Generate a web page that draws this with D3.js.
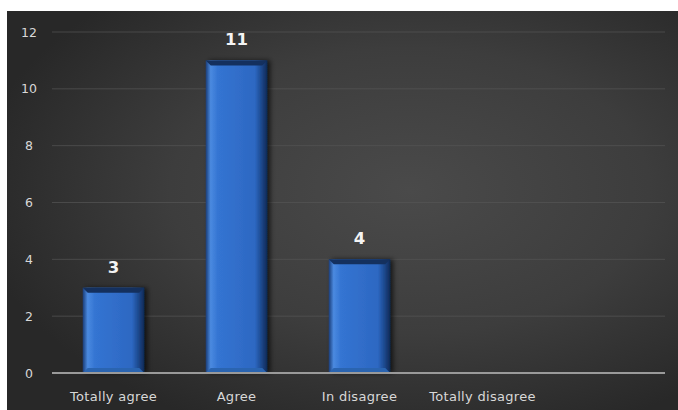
<!DOCTYPE html>
<html><head><meta charset="utf-8">
<script src="https://cdn.jsdelivr.net/npm/d3@7"></script>
<style>html,body{margin:0;padding:0;background:#fff;}svg{display:block;}</style>
</head><body>
<script>
const categories = ["Totally agree", "Agree", "In disagree", "Totally disagree", ""];
const values = [3, 11, 4, null, null];
const yTicks = [0, 2, 4, 6, 8, 10, 12];

const W = 678, H = 410;
const svg = d3.select("body").append("svg").attr("width", W).attr("height", H);
const defs = svg.append("defs");

const bg = defs.append("radialGradient").attr("id","bg")
  .attr("cx","0.6").attr("cy","0.45").attr("r","0.65");
bg.append("stop").attr("offset","0").attr("stop-color","#4a4a4a");
bg.append("stop").attr("offset","0.55").attr("stop-color","#3d3d3d");
bg.append("stop").attr("offset","1").attr("stop-color","#282828");

const bar = defs.append("linearGradient").attr("id","bar").attr("x1","0").attr("x2","1").attr("y1","0").attr("y2","0");
bar.append("stop").attr("offset","0").attr("stop-color","#1b3d78");
bar.append("stop").attr("offset","0.08").attr("stop-color","#4a8ae0");
bar.append("stop").attr("offset","0.2").attr("stop-color","#3474d2");
bar.append("stop").attr("offset","0.8").attr("stop-color","#2d68c2");
bar.append("stop").attr("offset","0.9").attr("stop-color","#1d4a90");
bar.append("stop").attr("offset","1").attr("stop-color","#0f2a55");

const shadow = defs.append("filter").attr("id","sh").attr("x","-30%").attr("y","-10%").attr("width","160%").attr("height","120%");
shadow.append("feDropShadow").attr("dx",3).attr("dy",0).attr("stdDeviation",2.5).attr("flood-color","#000").attr("flood-opacity",0.65);

svg.append("rect").attr("x",7).attr("y",11).attr("width",W-7).attr("height",H-11).attr("fill","url(#bg)");

const x = d3.scaleBand().domain(categories).range([52, 667]).paddingInner(0.5).paddingOuter(0.25);
const y = d3.scaleLinear().domain([0, 12]).range([373, 32]);
const font = "'DejaVu Sans', Verdana, sans-serif";

// grid
const grid = svg.append("g");
grid.selectAll("line").data(yTicks.filter(d => d > 0)).join("line")
  .attr("x1", 52).attr("x2", 665)
  .attr("y1", d => y(d)).attr("y2", d => y(d))
  .attr("stroke", "#555").attr("stroke-width", 1).attr("opacity", 0.7);

// y axis labels
const yAxis = d3.axisLeft(y).tickValues(yTicks).tickSize(0).tickPadding(0);
const yg = svg.append("g").attr("transform", "translate(29,0)").call(yAxis);
yg.select(".domain").remove();
yg.selectAll("text").attr("fill", "#d8d8d8").attr("text-anchor", "middle")
  .style("font-family", font).style("font-size", "12.5px");

// bars
const data = categories.map((c, i) => ({c, v: values[i]})).filter(d => d.v != null);
const bw = x.bandwidth();
const bars = svg.append("g");
bars.selectAll("rect").data(data).join("rect")
  .attr("x", d => x(d.c)).attr("y", d => y(d.v))
  .attr("width", bw).attr("height", d => y(0) - y(d.v))
  .attr("fill", "url(#bar)").attr("filter", "url(#sh)");
// top bevel
bars.selectAll("path.top").data(data).join("path").attr("class","top")
  .attr("d", d => `M${x(d.c)},${y(d.v)} h${bw} l-5,5 h${-(bw-10)} z`)
  .attr("fill", "#14305e");
bars.selectAll("path.bot").data(data).join("path").attr("class","bot")
  .attr("d", d => `M${x(d.c)},${y(0)} h${bw} l-5,-5 h${-(bw-10)} z`)
  .attr("fill", "#2a64b0");

// baseline
svg.append("line").attr("x1", 52).attr("x2", 665).attr("y1", y(0)).attr("y2", y(0))
  .attr("stroke", "#9a9a9a").attr("stroke-width", 2);

// value labels
svg.append("g").selectAll("text").data(data).join("text")
  .attr("x", d => x(d.c) + bw / 2).attr("y", d => y(d.v) - 15)
  .attr("text-anchor", "middle").attr("fill", "#f4f4f4")
  .style("font-family", font).style("font-size", "16.5px").style("font-weight", "bold")
  .text(d => d.v);

// x labels
const xAxis = d3.axisBottom(x).tickSize(0).tickPadding(0);
const xg = svg.append("g").attr("transform", `translate(0,${y(0) + 23})`).call(xAxis);
xg.select(".domain").remove();
xg.selectAll("text").attr("fill", "#d8d8d8").attr("dy", "0.35em")
  .style("font-family", font).style("font-size", "13px").style("letter-spacing", "0.3px");
</script>
</body></html>
